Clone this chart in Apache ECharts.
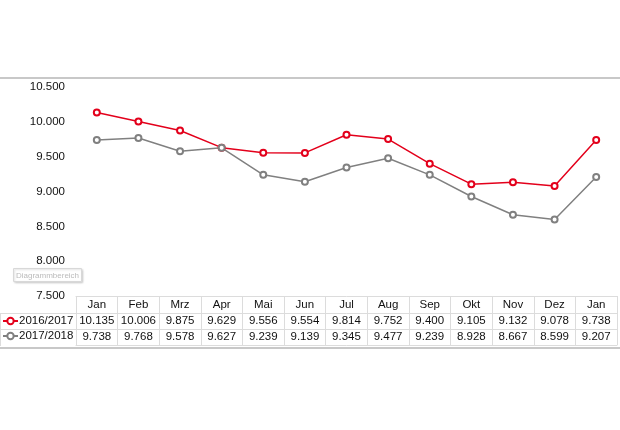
<!DOCTYPE html>
<html>
<head>
<meta charset="utf-8">
<script src="https://cdn.jsdelivr.net/npm/echarts@6/dist/echarts.min.js"></script>
<style>
  html, body { margin: 0; padding: 0; background: #fff; }
  #chart { width: 620px; height: 430px; }
</style>
</head>
<body>
<div id="chart"></div>
<script>
const months = ['Jan', 'Feb', 'Mrz', 'Apr', 'Mai', 'Jun', 'Jul', 'Aug', 'Sep', 'Okt', 'Nov', 'Dez', 'Jan'];
const season1 = [10135, 10006, 9875, 9629, 9556, 9554, 9814, 9752, 9400, 9105, 9132, 9078, 9738];
const season2 = [9738, 9768, 9578, 9627, 9239, 9139, 9345, 9477, 9239, 8928, 8667, 8599, 9207];
const seriesNames = ['2016/2017', '2017/2018'];

// German thousands separator: 10135 -> "10.135"
const fmt = (v) => Math.floor(v / 1000) + '.' + String(v % 1000).padStart(3, '0');

const font = 'Arial, "Liberation Sans", sans-serif';
const fontSize = 11.5;
const lineCol = '#dcdcdc';
const frameCol = '#c8c8c8';

const chart = echarts.init(document.getElementById('chart'));

// one x axis per table row, stacked with offsets below the plot
const rowAxis = (data, offset, showLabel) => ({
    type: 'category',
    position: 'bottom',
    offset,
    data,
    axisLine: { show: true, lineStyle: { color: lineCol, width: 1 } },
    axisTick: { show: false },
    axisLabel: {
        show: showLabel,
        interval: 0,
        margin: 2,
        color: '#111',
        fontFamily: font,
        fontSize,
    },
});

chart.setOption({
    animation: false,
    textStyle: { fontFamily: font },
    grid: { left: 76, right: 3, top: 87, bottom: 134 },
    legend: {
        orient: 'vertical',
        left: 2,
        top: 315,
        padding: 0,
        itemWidth: 15,
        itemHeight: 8,
        itemGap: 3,
        textStyle: { color: '#111', fontSize, fontFamily: font, padding: [0, 0, 0, -4] },
        data: seriesNames,
    },
    xAxis: [
        {
            type: 'category',
            data: months,
            axisLine: { show: true, lineStyle: { color: lineCol } },
            axisTick: { show: true, interval: 0, length: 49, lineStyle: { color: lineCol } },
            axisLabel: { interval: 0, margin: 3, color: '#111', fontFamily: font, fontSize },
        },
        rowAxis(season1.map(fmt), 17, true),
        rowAxis(season2.map(fmt), 33, true),
        rowAxis(months.map(() => ''), 49, false),
    ],
    yAxis: {
        type: 'value',
        min: 7500,
        max: 10500,
        interval: 500,
        axisLine: { show: false },
        axisTick: { show: false },
        splitLine: { show: false },
        axisLabel: { margin: 11, color: '#111', fontFamily: font, fontSize, formatter: fmt },
    },
    series: [
        {
            name: seriesNames[0],
            type: 'line',
            data: season1,
            color: '#e3001b',
            symbol: 'emptyCircle',
            symbolSize: 6,
            lineStyle: { width: 1.5 },
            itemStyle: { borderWidth: 1.5 },
        },
        {
            name: seriesNames[1],
            type: 'line',
            data: season2,
            color: '#808080',
            symbol: 'emptyCircle',
            symbolSize: 6,
            lineStyle: { width: 1.5 },
            itemStyle: { borderWidth: 1.5 },
        },
    ],
    graphic: [
        { type: 'line', shape: { x1: 0, y1: 78, x2: 620, y2: 78 }, style: { stroke: frameCol, lineWidth: 2 } },
        { type: 'line', shape: { x1: 0, y1: 348, x2: 620, y2: 348 }, style: { stroke: frameCol, lineWidth: 2 } },
        { type: 'line', shape: { x1: 0, y1: 313.5, x2: 76, y2: 313.5 }, style: { stroke: lineCol, lineWidth: 1 } },
        { type: 'line', shape: { x1: 0, y1: 329.5, x2: 76, y2: 329.5 }, style: { stroke: lineCol, lineWidth: 1 } },
        { type: 'line', shape: { x1: 0.5, y1: 313, x2: 0.5, y2: 346 }, style: { stroke: lineCol, lineWidth: 1 } },
        {
            type: 'group',
            left: 13,
            top: 268,
            children: [
                {
                    type: 'rect',
                    shape: { x: 0, y: 0, width: 68, height: 13 },
                    style: { fill: '#fff', stroke: '#d8d8d8', lineWidth: 1, shadowBlur: 2, shadowOffsetX: 1, shadowOffsetY: 1, shadowColor: 'rgba(0,0,0,0.15)' },
                },
                {
                    type: 'text',
                    x: 34,
                    y: 7,
                    style: { text: 'Diagrammbereich', fill: '#bbb', fontSize: 8, fontFamily: font, align: 'center', verticalAlign: 'middle' },
                },
            ],
        },
    ],
});
</script>
</body>
</html>
